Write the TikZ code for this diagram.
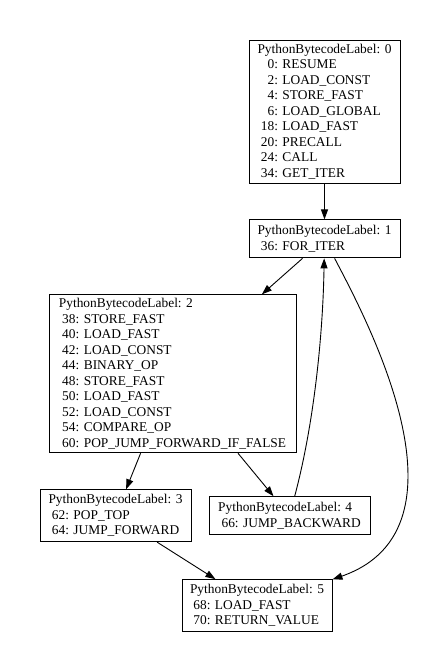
\documentclass[tikz,border=0pt]{standalone}
\usepackage{fontspec}
\setmainfont{Liberation Serif}
\usetikzlibrary{positioning,arrows.meta}

% one bytecode line: offset right-aligned, then the opcode
\newcommand{\instr}[2]{\hspace*{0.25em}\makebox[1em][r]{#1}: #2}

\begin{document}
\begin{tikzpicture}[x=1pt, y=1pt, node distance=36pt]
    % Styles
    \tikzstyle{block} = [rectangle, draw, line width=0.9pt, align=left, inner sep=0pt, font=\fontsize{13.4}{15.5}\selectfont]
    \tikzstyle{arrow} = [line width=0.9pt, -{Triangle[length=10pt, width=7pt]}]

    \useasboundingbox (0,0) rectangle (442,669);

    % Nodes
    \node (entry) [block, minimum width=151pt, minimum height=143pt] at (324.5,557.5) {PythonBytecodeLabel: 0\\ \instr{0}{RESUME}\\ \instr{2}{LOAD\_CONST}\\ \instr{4}{STORE\_FAST}\\ \instr{6}{LOAD\_GLOBAL}\\ \instr{18}{LOAD\_FAST}\\ \instr{20}{PRECALL}\\ \instr{24}{CALL}\\ \instr{34}{GET\_ITER}};
    \node (loop) [block, below=of entry, minimum width=151pt, minimum height=38pt] {PythonBytecodeLabel: 1\\ \instr{36}{FOR\_ITER}};
    \node (body) [block, below=of loop, xshift=-152pt, minimum width=247pt, minimum height=158pt] {PythonBytecodeLabel: 2\\ \instr{38}{STORE\_FAST}\\ \instr{40}{LOAD\_FAST}\\ \instr{42}{LOAD\_CONST}\\ \instr{44}{BINARY\_OP}\\ \instr{48}{STORE\_FAST}\\ \instr{50}{LOAD\_FAST}\\ \instr{52}{LOAD\_CONST}\\ \instr{54}{COMPARE\_OP}\\ \instr{60}{POP\_JUMP\_FORWARD\_IF\_FALSE}};
    \node (popt) [block, below=of body, xshift=-57pt, minimum width=151pt, minimum height=52pt] {PythonBytecodeLabel: 3\\ \instr{62}{POP\_TOP}\\ \instr{64}{JUMP\_FORWARD}};
    \node (back) [block, below=43pt of body, xshift=117pt, minimum width=161pt, minimum height=38pt] {PythonBytecodeLabel: 4\\ \instr{66}{JUMP\_BACKWARD}};
    \node (ret) [block, below=37pt of popt, xshift=141.5pt, minimum width=150pt, minimum height=52pt] {PythonBytecodeLabel: 5\\ \instr{68}{LOAD\_FAST}\\ \instr{70}{RETURN\_VALUE}};

    % Edges
    \draw [arrow] (entry) -- (loop);
    \draw [arrow] (loop) -- (body);
    \draw [arrow] (body) -- (popt);
    \draw [arrow] (body) -- (back);
    \draw [arrow] (popt) -- (ret);
    \draw [arrow] (back) .. controls (315,249) and (323,339) .. (loop);
    \draw [arrow] (loop) .. controls (363.6,355) and (480,141) .. (ret);
\end{tikzpicture}
\end{document}
